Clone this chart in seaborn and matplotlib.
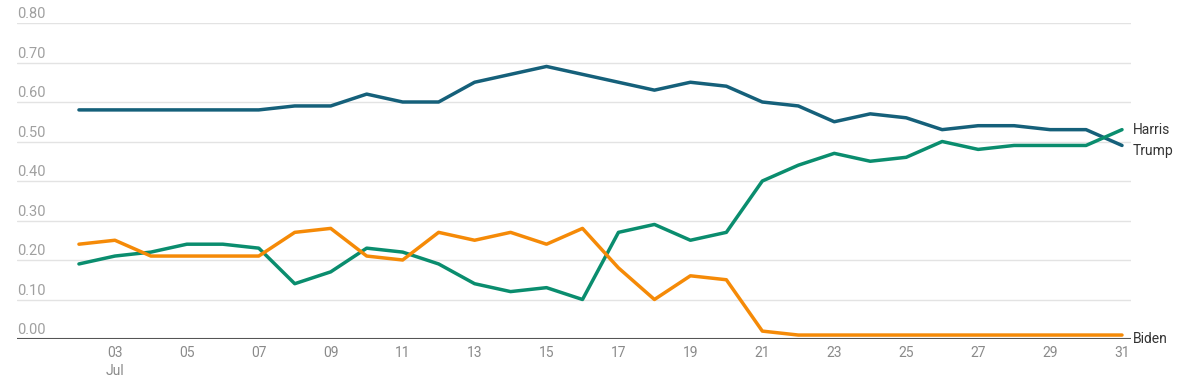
import pandas as pd
import numpy as np
import matplotlib
matplotlib.use('Agg')
import matplotlib.pyplot as plt
import seaborn as sns

# July 2 .. July 31
days = list(range(2, 32))

trump = [0.58, 0.58, 0.58, 0.58, 0.58, 0.58, 0.59, 0.59, 0.62, 0.60,
         0.60, 0.65, 0.67, 0.69, 0.67, 0.65, 0.63, 0.65, 0.64, 0.60,
         0.59, 0.55, 0.57, 0.56, 0.53, 0.54, 0.54, 0.53, 0.53, 0.49]
harris = [0.19, 0.21, 0.22, 0.24, 0.24, 0.23, 0.14, 0.17, 0.23, 0.22,
          0.19, 0.14, 0.12, 0.13, 0.10, 0.27, 0.29, 0.25, 0.27, 0.40,
          0.44, 0.47, 0.45, 0.46, 0.50, 0.48, 0.49, 0.49, 0.49, 0.53]
biden = [0.24, 0.25, 0.21, 0.21, 0.21, 0.21, 0.27, 0.28, 0.21, 0.20,
         0.27, 0.25, 0.27, 0.24, 0.28, 0.18, 0.10, 0.16, 0.15, 0.02,
         0.01, 0.01, 0.01, 0.01, 0.01, 0.01, 0.01, 0.01, 0.01, 0.01]

candidates = ['Trump', 'Harris', 'Biden']
colors = {'Trump': '#15607a', 'Harris': '#0a8d6e', 'Biden': '#f58a07'}

xticks = [3, 5, 7, 9, 11, 13, 15, 17, 19, 21, 23, 25, 27, 29, 31]
xtick_labels = ['03\nJul', '05', '07', '09', '11', '13', '15', '17', '19',
                '21', '23', '25', '27', '29', '31']
yticks = [0.0, 0.1, 0.2, 0.3, 0.4, 0.5, 0.6, 0.7, 0.8]

df = pd.DataFrame({
    'day': days * 3,
    'value': trump + harris + biden,
    'candidate': ['Trump'] * len(days) + ['Harris'] * len(days) + ['Biden'] * len(days),
})

sns.set_theme(style='white')
plt.rcParams['font.family'] = ['Roboto', 'DejaVu Sans']

fig = plt.figure(figsize=(12, 3.79), dpi=100)
ax = fig.add_axes([17 / 1200, 1 - 339 / 379, (1131 - 17) / 1200, (339 - 23) / 379])

sns.lineplot(data=df, x='day', y='value', hue='candidate', hue_order=candidates,
             palette=colors, linewidth=2.5, legend=False, ax=ax)

ax.set_xlim(2 - 62 / 36, 31 + 9 / 36)
ax.set_ylim(0, 0.8)

# grid
for y in yticks[1:]:
    ax.axhline(y, color='#e3e3e3', linewidth=1, zorder=0)
ax.axhline(0, color='#555555', linewidth=1.5, zorder=1)

# y labels sit just above gridlines
for y in yticks:
    ax.text(0, y + 0.005, f'{y:.2f}', transform=ax.get_yaxis_transform(),
            ha='left', va='bottom', fontsize=10.5, color='#a0a0a0')

ax.set_yticks([])
ax.set_xticks(xticks)
ax.set_xticklabels(xtick_labels, fontsize=10, color='#8a8a8a', linespacing=1.35)
ax.tick_params(axis='x', length=0, pad=5)
ax.set_xlabel('')
ax.set_ylabel('')
sns.despine(ax=ax, left=True, bottom=True)

# end labels
ax.text(31.3, 0.53, 'Harris', ha='left', va='center', fontsize=10, color='#333333', clip_on=False)
ax.text(31.3, 0.475, 'Trump', ha='left', va='center', fontsize=10, color='#333333', clip_on=False)
ax.text(31.3, 0.0, 'Biden', ha='left', va='center', fontsize=10, color='#333333', clip_on=False)

plt.savefig('out.png', dpi=100)
plt.close()
